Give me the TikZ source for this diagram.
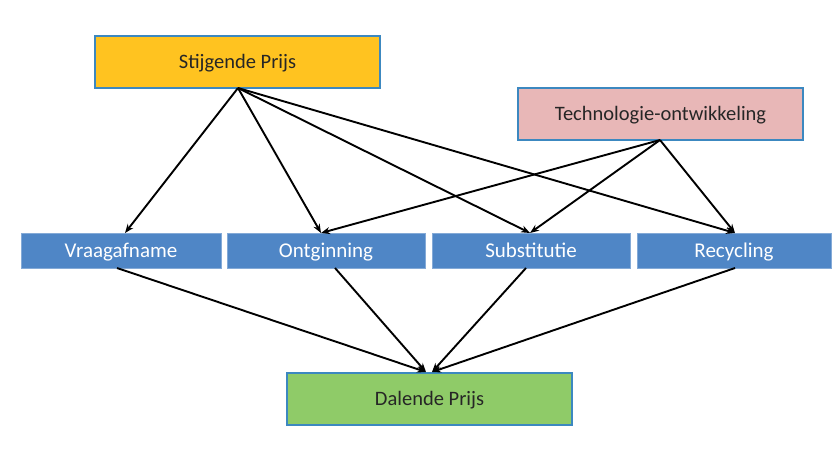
\documentclass[tikz,border=0pt]{standalone}
\usepackage{fontspec}
\setmainfont{Carlito}
\usetikzlibrary{arrows.meta}
\definecolor{yel}{HTML}{FFC320}
\definecolor{pinkc}{HTML}{E8B7B7}
\definecolor{bluec}{HTML}{4F86C6}
\definecolor{greenc}{HTML}{8FCB68}
\definecolor{edgeb}{HTML}{3C88C0}
\begin{document}
\begin{tikzpicture}[x=1pt,y=-1pt,
  topbox/.style={draw=edgeb, line width=1.2pt, minimum width=285pt, minimum height=52pt, inner sep=0pt, text height=13pt, text depth=0pt, text=black!85, font=\fontsize{20.5}{24}\selectfont},
  midbox/.style={draw=bluec!70!white, line width=0.8pt, fill=bluec, text=white, minimum height=35pt, inner sep=0pt, text height=13.5pt, text depth=0pt, font=\fontsize{21}{24}\selectfont},
  arr/.style={-{Stealth[length=9pt,width=7pt]}, line width=1.9pt, black}]
\useasboundingbox (0,0) rectangle (834,455);
\fill[white] (0,0) rectangle (834,455);
\node[topbox, fill=yel] (sp) at (237.5,62) {Stijgende Prijs};
\node[topbox, fill=pinkc] (tech) at (660.5,114) {Technologie-ontwikkeling};
\node[midbox, minimum width=200pt] (vr) at (121,251) {Vraagafname};
\node[midbox, minimum width=198pt] (on) at (326,251) {Ontginning};
\node[midbox, minimum width=198pt] (su) at (531,251) {Substitutie};
\node[midbox, minimum width=194pt] (re) at (734,251) {Recycling};
\node[topbox, fill=greenc] (dp) at (429.5,399) {Dalende Prijs};
\coordinate (spb) at (238,88);
\coordinate (teb) at (660,140);
\coordinate (vrt) at (125,233);
\coordinate (ont) at (321,233);
\coordinate (sut) at (530,233);
\coordinate (ret) at (735,233);
\coordinate (vrb) at (117,268);
\coordinate (onb) at (335,268);
\coordinate (sub) at (526,268);
\coordinate (reb) at (735,268);
\coordinate (dpt1) at (426,372);
\coordinate (dpt2) at (432,372);
\draw[arr] (spb) -- (vrt);
\draw[arr] (spb) -- (ont);
\draw[arr] (spb) -- (sut);
\draw[arr] (spb) -- (ret);
\draw[arr] (teb) -- (ont);
\draw[arr] (teb) -- (sut);
\draw[arr] (teb) -- (ret);
\draw[arr] (vrb) -- (dpt1);
\draw[arr] (onb) -- (dpt1);
\draw[arr] (sub) -- (dpt2);
\draw[arr] (reb) -- (dpt2);
\end{tikzpicture}
\end{document}
